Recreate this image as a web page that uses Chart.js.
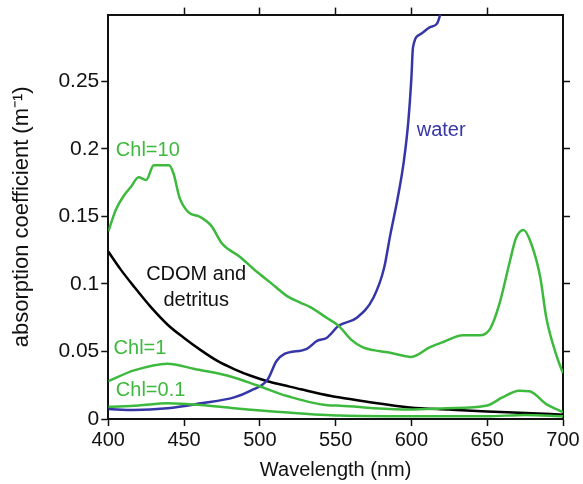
<!DOCTYPE html>
<html>
<head>
<meta charset="utf-8">
<script src="https://cdn.jsdelivr.net/npm/chart.js@4/dist/chart.umd.min.js"></script>
<style>
  html, body { margin: 0; padding: 0; background: #fff; }
  #wrap { width: 583px; height: 484px; position: relative; }
</style>
</head>
<body>
<div id="wrap"><canvas id="grafik"></canvas></div>
<script>
// wavelengths (nm) and absorption (1/m)
const wlChl10 = [400,405,410,415,420,425,430,435,440,443,447,453,460,468,475,487,498,507,518,527,533,544,552,560,568,575,586,600,612,621,634,645,652,658,665,669,674,679,685,689,696,700];
const chl10 = [0.139,0.155,0.165,0.172,0.179,0.177,0.188,0.188,0.188,0.182,0.164,0.153,0.150,0.143,0.130,0.120,0.109,0.101,0.091,0.086,0.083,0.075,0.069,0.059,0.053,0.051,0.049,0.046,0.053,0.057,0.062,0.062,0.067,0.085,0.117,0.134,0.140,0.130,0.105,0.075,0.046,0.034];

const wlCdom = [400,408,417,428,439,450,461,472,483,494,505,516,527,547,553,575,599,625,650,675,700];
const cdom = [0.124,0.111,0.098,0.083,0.070,0.060,0.051,0.043,0.037,0.032,0.028,0.025,0.022,0.017,0.016,0.012,0.0086,0.007,0.0056,0.0045,0.0032];

const wlChl1 = [400,417,439,457,479,498,518,547,553,575,599,623,650,660,671,678,689,700];
const chl1 = [0.028,0.036,0.041,0.037,0.032,0.025,0.017,0.010,0.0099,0.008,0.007,0.008,0.010,0.016,0.021,0.0205,0.011,0.005];

const wlChl01 = [400,420,439,461,483,516,553,600,650,675,700];
const chl01 = [0.009,0.010,0.0116,0.0104,0.008,0.005,0.0025,0.002,0.002,0.003,0.002];

const wlWater = [400,417,439,461,483,494,505,511,516,531,538,544,552,564,575,582,586,591,595,598,600,601,606,612,617,619];
const water = [0.0074,0.0067,0.008,0.0116,0.016,0.021,0.029,0.043,0.048,0.052,0.058,0.060,0.069,0.075,0.090,0.112,0.136,0.164,0.191,0.221,0.253,0.275,0.285,0.29,0.293,0.2995];

const xTicks = [400,450,500,550,600,650,700];
const yTicks = [0,0.05,0.1,0.15,0.2,0.25];

const GREEN = "#3dba3d";
const BLUE = "#3636a8";

// curve labels: text, wavelength, value, colour, alignment
const notes = [
  ["Chl=10", 405, 0.1985, GREEN, "left"],
  ["water", 603.5, 0.2135, BLUE, "left"],
  ["CDOM and", 458, 0.107, "#111", "center"],
  ["detritus", 458, 0.0875, "#111", "center"],
  ["Chl=1", 403.5, 0.0525, GREEN, "left"],
  ["Chl=0.1", 405, 0.021, GREEN, "left"],
];

const pts = (xs, ys) => xs.map((x, i) => ({ x: x, y: ys[i] }));
const FONT = "'Liberation Sans', Arial, Helvetica, sans-serif";

function line(label, xs, ys, color) {
  return {
    label: label,
    data: pts(xs, ys),
    borderColor: color,
    borderWidth: 2.5,
    pointRadius: 0,
    fill: false,
    cubicInterpolationMode: "monotone",
  };
}

const labelPlugin = {
  id: "curveLabels",
  afterDatasetsDraw(chart) {
    const ctx = chart.ctx;
    const xs = chart.scales.x, ys = chart.scales.y;
    ctx.save();
    ctx.font = "20px " + FONT;
    ctx.textBaseline = "middle";
    notes.forEach(n => {
      ctx.fillStyle = n[3];
      ctx.textAlign = n[4];
      ctx.fillText(n[0], xs.getPixelForValue(n[1]), ys.getPixelForValue(n[2]));
    });
    ctx.restore();
  }
};

const tickFmt = v => String(+(+v).toFixed(2));
const edge = { display: true, color: "#111", width: 2 };
const marks = { drawOnChartArea: false, drawTicks: true, tickLength: 7, tickWidth: 1.5, tickColor: "#111" };

Chart.defaults.font.family = FONT;
Chart.defaults.color = "#111";

new Chart(document.getElementById("grafik").getContext("2d"), {
  type: "line",
  data: {
    datasets: [
      line("Chl=0.1", wlChl01, chl01, GREEN),
      line("Chl=1", wlChl1, chl1, GREEN),
      line("Chl=10", wlChl10, chl10, GREEN),
      line("water", wlWater, water, BLUE),
      line("CDOM and detritus", wlCdom, cdom, "#000"),
    ],
  },
  options: {
    responsive: true,
    maintainAspectRatio: false,
    animation: false,
    layout: { padding: { top: 7, right: 13, left: 0, bottom: 0 } },
    plugins: { legend: { display: false }, tooltip: { enabled: false } },
    scales: {
      x: {
        type: "linear", position: "bottom", min: 400, max: 700,
        afterBuildTicks: s => { s.ticks = xTicks.map(v => ({ value: v })); },
        ticks: { font: { size: 20 }, padding: 2, maxRotation: 0 },
        grid: marks, border: edge,
        title: { display: true, text: "Wavelength (nm)", font: { size: 20 }, padding: { top: 4, bottom: 2 } },
      },
      x2: {
        type: "linear", position: "top", min: 400, max: 700,
        afterBuildTicks: s => { s.ticks = xTicks.slice(1, -1).map(v => ({ value: v })); },
        ticks: { display: false },
        grid: marks, border: edge,
      },
      y: {
        type: "linear", position: "left", min: 0, max: 0.2995,
        afterBuildTicks: s => { s.ticks = yTicks.map(v => ({ value: v })); },
        ticks: { font: { size: 21 }, padding: 2, callback: tickFmt },
        grid: marks, border: edge,
        title: { display: true, text: "absorption coefficient (m\u207B\u00B9)", font: { size: 22 }, padding: { top: 9, bottom: 21 } },
      },
      y2: {
        type: "linear", position: "right", min: 0, max: 0.2995,
        afterBuildTicks: s => { s.ticks = yTicks.slice(1).map(v => ({ value: v })); },
        ticks: { display: false },
        grid: marks, border: edge,
      },
    },
  },
  plugins: [labelPlugin],
});
</script>
</body>
</html>
